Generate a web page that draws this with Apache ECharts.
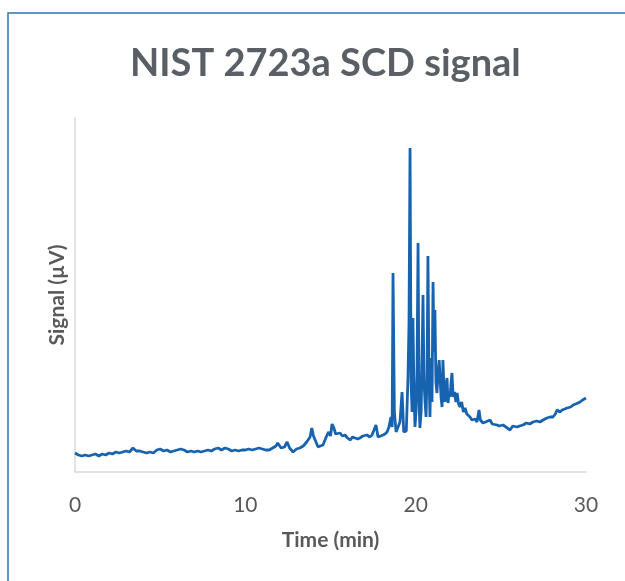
<!DOCTYPE html>
<html>
<head>
<meta charset="utf-8">
<script src="https://cdn.jsdelivr.net/npm/echarts@6/dist/echarts.min.js"></script>
<style>
  html, body { margin: 0; padding: 0; background: #fff; }
  #chart { width: 625px; height: 581px; }
</style>
</head>
<body>
<div id="chart"></div>
<script>
// time (min) and SCD signal (arbitrary units)
var times = [
  0.0, 0.2, 0.4, 0.6, 0.8, 1.0, 1.2, 1.4, 1.6, 1.8, 2.0, 2.2, 2.4, 2.6, 2.8, 3.0, 3.2, 3.4, 3.6, 3.8,
  4.0, 4.2, 4.4, 4.6, 4.8, 5.0, 5.2, 5.4, 5.6, 5.8, 6.0, 6.2, 6.4, 6.6, 6.8, 7.0, 7.2, 7.4, 7.6, 7.8,
  8.0, 8.2, 8.4, 8.6, 8.8, 9.0, 9.2, 9.4, 9.6, 9.8, 10.0, 10.2, 10.4, 10.6, 10.8, 11.0, 11.2, 11.4, 11.6, 11.8,
  11.9, 12.1, 12.3, 12.45, 12.6, 12.8, 13.0, 13.2, 13.4, 13.6, 13.8, 13.9, 14.0, 14.1, 14.27, 14.4, 14.56, 14.7, 14.8, 14.9,
  15.0, 15.09, 15.2, 15.3, 15.38, 15.56, 15.7, 15.85, 16.0, 16.15, 16.3, 16.44, 16.6, 16.73, 16.9, 17.14, 17.3, 17.44, 17.55, 17.67,
  17.79, 17.95, 18.08, 18.2, 18.32, 18.43, 18.55, 18.62, 18.67, 18.75, 18.85, 18.95, 19.08, 19.2, 19.3, 19.37, 19.45, 19.5, 19.55, 19.61,
  19.67, 19.73, 19.79, 19.84, 19.9, 19.96, 20.02, 20.08, 20.14, 20.2, 20.25, 20.32, 20.38, 20.43, 20.49, 20.55, 20.61, 20.67, 20.72, 20.78,
  20.84, 20.9, 20.96, 21.02, 21.08, 21.13, 21.19, 21.25, 21.32, 21.38, 21.43, 21.49, 21.55, 21.6, 21.67, 21.72, 21.78, 21.84, 21.9, 21.96,
  22.02, 22.08, 22.13, 22.2, 22.28, 22.36, 22.43, 22.52, 22.6, 22.7, 22.8, 22.9, 23.0, 23.1, 23.19, 23.3, 23.37, 23.5, 23.6, 23.72,
  23.8, 23.95, 24.1, 24.2, 24.36, 24.5, 24.6, 24.78, 24.9, 25.0, 25.13, 25.3, 25.4, 25.54, 25.7, 25.8, 25.95, 26.1, 26.2, 26.3,
  26.5, 26.7, 26.89, 27.1, 27.3, 27.48, 27.7, 27.9, 28.06, 28.2, 28.3, 28.47, 28.6, 28.75, 28.89, 29.0, 29.1, 29.24, 29.4, 29.5,
  29.65, 29.8, 29.9, 30.0
];
var signal = [
  19, 17, 16, 17, 16, 17, 18, 16, 18, 17, 19, 18, 20, 19, 20, 21, 20, 24, 21, 21,
  20, 19, 20, 19, 22, 23, 21, 22, 20, 21, 22, 23, 22, 20, 21, 20, 21, 20, 21, 22,
  21, 23, 24, 22, 24, 23, 21, 22, 21, 22, 22, 23, 22, 23, 24, 23, 22, 22, 24, 26,
  29, 24, 25, 30, 24, 20, 23, 24, 26, 30, 35, 44, 36, 32, 25, 26, 27, 33, 37, 40,
  36, 48, 44, 38, 39, 39, 36, 37, 34, 32, 35, 34, 33, 34, 36, 37, 35, 37, 39, 47,
  35, 36, 37, 38, 40, 45, 55, 45, 199, 60, 40, 42, 50, 80, 40, 39, 41, 39, 95, 150,
  324, 90, 60, 154, 80, 45, 60, 100, 229, 70, 44, 60, 120, 177, 90, 70, 55, 100, 216, 100,
  55, 114, 70, 190, 120, 162, 90, 79, 100, 112, 95, 75, 65, 112, 80, 70, 85, 94, 69, 80,
  75, 90, 99, 75, 80, 70, 79, 68, 65, 70, 60, 64, 58, 60, 55, 52, 50, 53, 50, 62,
  52, 49, 50, 48, 52, 48, 50, 47, 46, 48, 47, 45, 47, 42, 46, 44, 45, 46, 48, 47,
  49, 48, 50, 51, 50, 52, 54, 55, 55, 58, 62, 60, 62, 63, 64, 66, 65, 67, 68, 69,
  70, 72, 73, 74
];
var xTicks = [0, 10, 20, 30];

var points = times.map(function (t, i) { return [t, signal[i]]; });
var grey = '#595959';
var font = 'Lato, "Open Sans", sans-serif';

var chart = echarts.init(document.getElementById('chart'));
chart.setOption({
    animation: false,
    title: {
        text: 'NIST 2723a SCD signal',
        left: 125,
        top: 40,
        textStyle: { fontFamily: font, fontSize: 38, fontWeight: 'bold', color: '#5a5f66' }
    },
    graphic: [{
        type: 'rect',
        shape: { x: 8, y: 13, width: 700, height: 700 },
        style: { fill: 'none', stroke: '#2f74b5', lineWidth: 1.5 },
        silent: true
    }],
    grid: { left: 75, right: 39, top: 118, bottom: 109, containLabel: false },
    xAxis: {
        type: 'value',
        min: xTicks[0],
        max: xTicks[xTicks.length - 1],
        interval: 10,
        name: 'Time (min)',
        nameLocation: 'middle',
        nameGap: 58,
        nameTextStyle: { fontFamily: font, fontSize: 21, fontWeight: 'bold', color: grey },
        axisLine: { lineStyle: { color: '#d9d9d9', width: 1.5 } },
        axisTick: { show: false },
        splitLine: { show: false },
        axisLabel: { fontFamily: font, fontSize: 21, color: grey, margin: 23 }
    },
    yAxis: {
        type: 'value',
        min: 0,
        max: 354,
        name: 'Signal (µV)',
        nameLocation: 'middle',
        nameGap: 7,
        nameTextStyle: { fontFamily: font, fontSize: 21, fontWeight: 'bold', color: grey },
        axisLine: { show: true, lineStyle: { color: '#d9d9d9', width: 1.5 } },
        axisTick: { show: false },
        axisLabel: { show: false },
        splitLine: { show: false }
    },
    series: [{
        type: 'line',
        data: points,
        showSymbol: false,
        lineStyle: { color: '#1763b0', width: 2.8 },
        itemStyle: { color: '#1763b0' }
    }]
});
</script>
</body>
</html>
